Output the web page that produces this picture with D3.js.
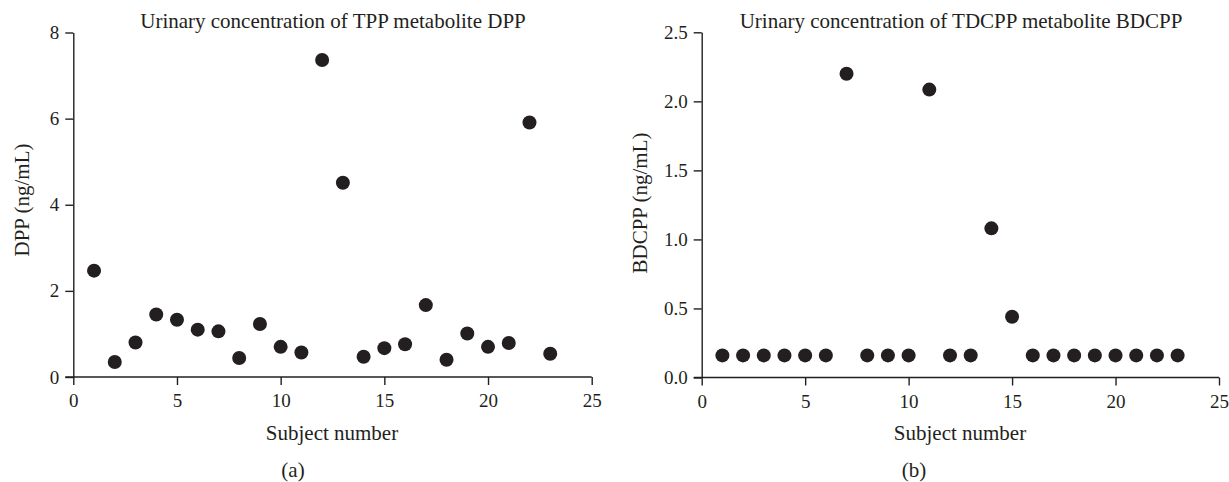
<!DOCTYPE html>
<html>
<head>
<meta charset="utf-8">
<script src="https://cdn.jsdelivr.net/npm/d3@7"></script>
<style>
  html, body { margin: 0; padding: 0; background: #fff; }
  svg { display: block; }
  text { font-family: "Liberation Serif", "DejaVu Serif", serif; fill: #231f20; }
</style>
</head>
<body>
<svg id="chart" width="1229" height="482"></svg>
<script>
// ---- Data ----
const subjects = [1,2,3,4,5,6,7,8,9,10,11,12,13,14,15,16,17,18,19,20,21,22,23];
const dppValues = [2.47,0.35,0.80,1.45,1.33,1.10,1.06,0.44,1.23,0.70,0.57,7.36,4.51,0.47,0.67,0.76,1.67,0.40,1.01,0.70,0.79,5.91,0.54];
const bdcppValues = [0.16,0.16,0.16,0.16,0.16,0.16,2.20,0.16,0.16,0.16,2.085,0.16,0.16,1.08,0.44,0.16,0.16,0.16,0.16,0.16,0.16,0.16,0.16];
const xTicks = [0,5,10,15,20,25];
const dppTicks = [0,2,4,6,8];
const bdcppTicks = [0,0.5,1.0,1.5,2.0,2.5];
const titles = ["Urinary concentration of TPP metabolite DPP", "Urinary concentration of TDCPP metabolite BDCPP"];
const yLabels = ["DPP (ng/mL)", "BDCPP (ng/mL)"];
const xLabel = "Subject number";
const panelLabels = ["(a)", "(b)"];

const ink = "#231f20";
const svg = d3.select("#chart");

const panels = [
  { values: dppValues, yMax: 8, ticks: dppTicks, fmt: d3.format("d"),
    x0: 73.3, x1: 591.7, yBottom: 377, yTop: 32.5,
    title: titles[0], titleX: 333, yLabel: yLabels[0], yLabelX: 29, yLabelY: 200,
    xLabelX: 332, panel: panelLabels[0], panelX: 293 },
  { values: bdcppValues, yMax: 2.5, ticks: bdcppTicks, fmt: d3.format(".1f"),
    x0: 701.7, x1: 1219, yBottom: 377.5, yTop: 32.3,
    title: titles[1], titleX: 961, yLabel: yLabels[1], yLabelX: 647, yLabelY: 203,
    xLabelX: 960, panel: panelLabels[1], panelX: 914 }
];

panels.forEach(p => {
  const x = d3.scaleLinear().domain([0, 25]).range([p.x0, p.x1]);
  const y = d3.scaleLinear().domain([0, p.yMax]).range([p.yBottom, p.yTop]);
  const g = svg.append("g");

  const xAxis = g.append("g")
    .attr("transform", `translate(0,${p.yBottom})`)
    .call(d3.axisBottom(x).tickValues(xTicks).tickSize(8).tickSizeOuter(0).tickPadding(9));
  const yAxis = g.append("g")
    .attr("transform", `translate(${p.x0},0)`)
    .call(d3.axisLeft(y).tickValues(p.ticks).tickFormat(p.fmt).tickSize(8).tickSizeOuter(0).tickPadding(6));

  [xAxis, yAxis].forEach(a => {
    a.selectAll("path.domain").attr("stroke", ink).attr("stroke-width", 1.4);
    a.selectAll(".tick line").attr("stroke", ink).attr("stroke-width", 1.4);
    a.selectAll(".tick text").attr("fill", ink)
      .style("font-family", '"Liberation Serif", serif').style("font-size", "19px");
  });
  // extend x-axis to meet y tick
  xAxis.select("path.domain").attr("d", `M${p.x0 - 8},0H${p.x1}`);

  g.append("g").selectAll("circle")
    .data(subjects.map((s, i) => ({ s, v: p.values[i] })))
    .join("circle")
    .attr("cx", d => x(d.s))
    .attr("cy", d => y(d.v))
    .attr("r", 7)
    .attr("fill", ink);

  g.append("text")
    .attr("x", p.titleX).attr("y", 28)
    .attr("text-anchor", "middle")
    .style("font-size", "21px")
    .text(p.title);

  g.append("text")
    .attr("transform", `translate(${p.yLabelX},${p.yLabelY}) rotate(-90)`)
    .attr("text-anchor", "middle")
    .style("font-size", "21px")
    .text(p.yLabel);

  g.append("text")
    .attr("x", p.xLabelX).attr("y", 440)
    .attr("text-anchor", "middle")
    .style("font-size", "21px")
    .text(xLabel);

  g.append("text")
    .attr("x", p.panelX).attr("y", 477)
    .attr("text-anchor", "middle")
    .style("font-size", "21px")
    .text(p.panel);
});
</script>
</body>
</html>
